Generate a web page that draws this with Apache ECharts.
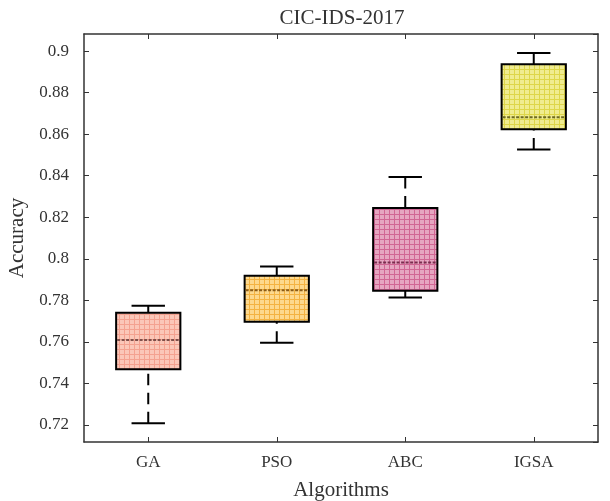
<!DOCTYPE html>
<html>
<head>
<meta charset="utf-8">
<script src="https://cdn.jsdelivr.net/npm/echarts@6/dist/echarts.min.js"></script>
<style>
  html, body { margin: 0; padding: 0; background: #fff; }
  #chart { width: 610px; height: 501px; }
</style>
</head>
<body>
<div id="chart"></div>
<script>
const categories = ['GA', 'PSO', 'ABC', 'IGSA'];
// [lower whisker, Q1, median, Q3, upper whisker]
const boxStats = [
  [0.7208, 0.7468, 0.7609, 0.7740, 0.7774],
  [0.7596, 0.7697, 0.7849, 0.7918, 0.7963],
  [0.7814, 0.7846, 0.7982, 0.8245, 0.8394],
  [0.8526, 0.8623, 0.8681, 0.8936, 0.8990]
];
const fillColors = ['#fbc7b8', '#fdd98e', '#e6a6c1', '#f0ec90'];
const hatchColors = ['#f29b88', '#f2ab35', '#cc5b8c', '#dbd23e'];
const medianColors = ['#80504a', '#8a5c18', '#7a2c4e', '#6e6a22'];

const font = "'Liberation Serif', 'DejaVu Serif', serif";

function makePattern(bg, line) {
  const c = document.createElement('canvas');
  c.width = 5; c.height = 5;
  const ctx = c.getContext('2d');
  ctx.fillStyle = bg;
  ctx.fillRect(0, 0, 5, 5);
  ctx.fillStyle = line;
  ctx.globalAlpha = 0.85;
  ctx.fillRect(4, 0, 1, 5);
  ctx.fillRect(0, 4, 4, 1);
  return { image: c, repeat: 'repeat' };
}
const patterns = fillColors.map((c, i) => makePattern(c, hatchColors[i]));

function renderBox(params, api) {
  const idx = api.value(0);
  const low = api.coord([idx, api.value(1)]);
  const q1 = api.coord([idx, api.value(2)]);
  const med = api.coord([idx, api.value(3)]);
  const q3 = api.coord([idx, api.value(4)]);
  const high = api.coord([idx, api.value(5)]);
  const bandW = api.size([1, 0])[0];
  const boxW = bandW * 0.5;
  const capW = bandW * 0.26;
  const x = low[0];
  const whisker = { stroke: '#000', lineWidth: 2, lineDash: [11.5, 7.5] };
  const solid = { stroke: '#000', lineWidth: 2 };
  return {
    type: 'group',
    children: [
      { type: 'line', shape: { x1: x, y1: low[1], x2: x, y2: q1[1] }, style: whisker },
      { type: 'line', shape: { x1: x, y1: high[1], x2: x, y2: q3[1] }, style: whisker },
      { type: 'line', shape: { x1: x - capW / 2, y1: low[1], x2: x + capW / 2, y2: low[1] }, style: solid },
      { type: 'line', shape: { x1: x - capW / 2, y1: high[1], x2: x + capW / 2, y2: high[1] }, style: solid },
      {
        type: 'rect',
        shape: { x: x - boxW / 2, y: q3[1], width: boxW, height: q1[1] - q3[1] },
        style: { fill: patterns[idx], stroke: '#000', lineWidth: 2 }
      },
      {
        type: 'line',
        shape: { x1: x - boxW / 2 + 1, y1: med[1], x2: x + boxW / 2 - 1, y2: med[1] },
        style: { stroke: medianColors[idx], lineWidth: 2, lineDash: [3, 1.5] }
      }
    ]
  };
}

const yMin = 0.7118, yMax = 0.9082;
const labelFmt = v => {
  const k = v / 0.02;
  if (Math.abs(k - Math.round(k)) > 1e-6) return '';
  return String(+v.toFixed(2));
};

const tick = { show: true, inside: true, length: 5, lineStyle: { color: '#333', width: 1 } };
const line = { show: true, lineStyle: { color: '#333', width: 1.5 } };

const chart = echarts.init(document.getElementById('chart'));
chart.setOption({
  backgroundColor: '#fff',
  animation: false,
  title: {
    text: 'CIC-IDS-2017',
    left: 337, textAlign: 'center', top: 3,
    textStyle: { fontFamily: font, fontSize: 21, fontWeight: 'normal', color: '#333' }
  },
  grid: { left: 84, top: 34, width: 514, height: 408, outerBoundsMode: 'none', containLabel: false },
  xAxis: [
    {
      type: 'category', data: categories, position: 'bottom',
      name: 'Algorithms', nameLocation: 'middle', nameGap: 38,
      nameTextStyle: { fontFamily: font, fontSize: 21, color: '#333' },
      axisLine: line,
      axisTick: Object.assign({ alignWithLabel: true }, tick),
      axisLabel: { fontFamily: font, fontSize: 17, color: '#333', margin: 12 },
      splitLine: { show: false }
    },
    {
      type: 'category', data: categories, position: 'top',
      axisLine: line,
      axisTick: Object.assign({ alignWithLabel: true }, tick),
      axisLabel: { show: false },
      splitLine: { show: false }
    }
  ],
  yAxis: [
    {
      type: 'value', min: yMin, max: yMax, splitNumber: 10, position: 'left',
      name: 'Accuracy', nameLocation: 'middle', nameGap: 52,
      nameTextStyle: { fontFamily: font, fontSize: 21, color: '#333' },
      axisLine: line,
      axisTick: tick,
      axisLabel: { fontFamily: font, fontSize: 17, color: '#333', margin: 15, formatter: labelFmt, showMinLabel: false, showMaxLabel: false },
      splitLine: { show: false }
    },
    {
      type: 'value', min: yMin, max: yMax, splitNumber: 10, position: 'right',
      axisLine: line,
      axisTick: tick,
      axisLabel: { show: false },
      splitLine: { show: false }
    }
  ],
  series: [
    {
      type: 'custom',
      xAxisIndex: 0, yAxisIndex: 0,
      renderItem: renderBox,
      encode: { x: 0, y: [1, 2, 3, 4, 5] },
      data: boxStats.map((s, i) => [i, ...s]),
      clip: false
    }
  ]
});
</script>
</body>
</html>
